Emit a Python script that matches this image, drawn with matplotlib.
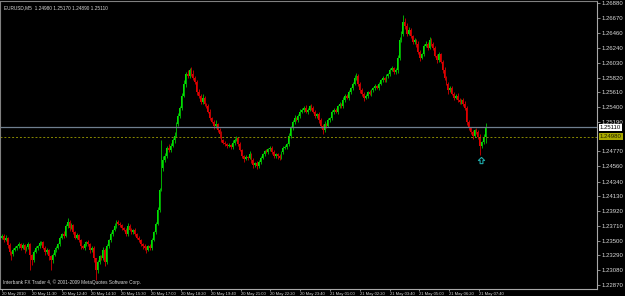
import numpy as np
import matplotlib
matplotlib.use("Agg")
import matplotlib.pyplot as plt

plt.rcParams['font.family'] = ['Liberation Sans', 'DejaVu Sans']

# EURUSD M5 closes
first_open = 1.2354
closes = [
    1.2357, 1.2351, 1.2354, 1.2344, 1.2334, 1.2331, 1.2337, 1.2340, 1.2342, 1.2345,
    1.2340, 1.2344, 1.2337, 1.2341, 1.2345, 1.2330, 1.2322, 1.2334, 1.2340, 1.2342,
    1.2347, 1.2348, 1.2340, 1.2334, 1.2337, 1.2328, 1.2322, 1.2330, 1.2337, 1.2340,
    1.2345, 1.2354, 1.2359, 1.2357, 1.2371, 1.2377, 1.2368, 1.2372, 1.2362, 1.2354,
    1.2358, 1.2351, 1.2342, 1.2340, 1.2345, 1.2348, 1.2345, 1.2337, 1.2340, 1.2325,
    1.2308, 1.2320, 1.2328, 1.2325, 1.2337, 1.2320, 1.2342, 1.2351, 1.2359, 1.2365,
    1.2371, 1.2377, 1.2374, 1.2372, 1.2368, 1.2365, 1.2359, 1.2371, 1.2365, 1.2362,
    1.2365, 1.2359, 1.2354, 1.2351, 1.2345, 1.2342, 1.2340, 1.2337, 1.2342, 1.2340,
    1.2351, 1.2362, 1.2374, 1.2394, 1.2422, 1.2453, 1.2465, 1.2470, 1.2482, 1.2479,
    1.2485, 1.2493, 1.2499, 1.2516, 1.2527, 1.2539, 1.2556, 1.2573, 1.2587, 1.2584,
    1.2593, 1.2587, 1.2581, 1.2576, 1.2561, 1.2556, 1.2547, 1.2553, 1.2544, 1.2541,
    1.2533, 1.2524, 1.2519, 1.2513, 1.2516, 1.2507, 1.2502, 1.2493, 1.2489, 1.2487,
    1.2485, 1.2486, 1.2483, 1.2489, 1.2493, 1.2496, 1.2487, 1.2479, 1.2470, 1.2466,
    1.2469, 1.2468, 1.2473, 1.2465, 1.2458, 1.2460, 1.2456, 1.2462, 1.2468, 1.2473,
    1.2477, 1.2476, 1.2480, 1.2482, 1.2476, 1.2470, 1.2473, 1.2470, 1.2468, 1.2476,
    1.2482, 1.2483, 1.2487, 1.2499, 1.2510, 1.2519, 1.2524, 1.2522, 1.2527, 1.2533,
    1.2536, 1.2539, 1.2533, 1.2536, 1.2541, 1.2539, 1.2533, 1.2527, 1.2530, 1.2522,
    1.2513, 1.2507, 1.2516, 1.2513, 1.2522, 1.2524, 1.2533, 1.2536, 1.2533, 1.2541,
    1.2544, 1.2541, 1.2550, 1.2556, 1.2553, 1.2561, 1.2567, 1.2573, 1.2581, 1.2584,
    1.2573, 1.2564, 1.2559, 1.2553, 1.2556, 1.2561, 1.2559, 1.2564, 1.2567, 1.2570,
    1.2567, 1.2573, 1.2578, 1.2581, 1.2578, 1.2584, 1.2587, 1.2593, 1.2595, 1.2590,
    1.2593, 1.2610, 1.2635, 1.2644, 1.2661, 1.2655, 1.2644, 1.2650, 1.2641, 1.2632,
    1.2635, 1.2630, 1.2618, 1.2610, 1.2615, 1.2627, 1.2630, 1.2624, 1.2635, 1.2630,
    1.2624, 1.2613, 1.2607, 1.2615, 1.2604, 1.2593, 1.2581, 1.2573, 1.2564, 1.2567,
    1.2559, 1.2553, 1.2556, 1.2550, 1.2547, 1.2550, 1.2544, 1.2539, 1.2519, 1.2510,
    1.2505, 1.2499, 1.2507, 1.2505, 1.2498, 1.2485, 1.2490, 1.2498, 1.2511,
]
# wick lengths in pips above / below the body
wick_up = [
    3, 2, 4, 1, 2, 1, 3, 2, 2, 3, 2, 3, 1, 2, 3, 2, 1, 3, 2, 2,
    3, 2, 1, 2, 3, 1, 2, 3, 2, 2, 2, 3, 2, 4, 3, 5, 2, 3, 2, 1,
    3, 2, 1, 2, 3, 2, 3, 1, 2, 2, 1, 3, 2, 2, 4, 2, 3, 2, 3, 2,
    4, 3, 2, 3, 2, 2, 3, 4, 2, 3, 2, 3, 2, 2, 1, 2, 3, 2, 2, 3,
    3, 2, 3, 4, 3, 40, 5, 4, 3, 6, 4, 3, 5, 3, 4, 3, 4, 5, 3, 5,
    3, 4, 5, 3, 2, 4, 3, 6, 3, 2, 3, 4, 2, 3, 5, 2, 3, 4, 2, 3,
    2, 3, 2, 4, 3, 3, 2, 3, 2, 2, 3, 2, 4, 2, 3, 2, 3, 2, 3, 2,
    2, 3, 2, 3, 2, 3, 2, 2, 3, 2, 2, 3, 2, 4, 3, 3, 4, 2, 3, 4,
    3, 2, 4, 3, 2, 3, 2, 3, 2, 3, 2, 3, 4, 2, 3, 2, 3, 2, 3, 2,
    3, 2, 4, 3, 2, 3, 2, 3, 4, 5, 3, 2, 3, 2, 3, 2, 3, 2, 2, 3,
    2, 3, 2, 3, 2, 3, 2, 3, 4, 2, 3, 4, 5, 4, 10, 6, 5, 4, 3, 2,
    3, 2, 4, 3, 2, 3, 4, 3, 5, 3, 2, 3, 2, 3, 2, 3, 4, 3, 2, 3,
    3, 2, 3, 4, 3, 2, 3, 4, 3, 2, 2, 3, 2, 3, 2, 3, 2, 3, 6,
]
wick_dn = [
    2, 3, 2, 4, 5, 8, 3, 2, 3, 2, 3, 2, 4, 2, 3, 22, 6, 3, 2, 3,
    2, 3, 2, 4, 3, 5, 14, 4, 2, 3, 2, 3, 2, 3, 2, 3, 4, 2, 3, 2,
    2, 3, 4, 2, 3, 2, 3, 4, 3, 5, 14, 4, 3, 3, 2, 6, 3, 2, 3, 2,
    2, 3, 2, 2, 3, 2, 3, 2, 2, 3, 2, 3, 2, 3, 2, 4, 3, 4, 2, 3,
    3, 2, 3, 2, 3, 2, 4, 3, 2, 3, 3, 2, 4, 2, 3, 2, 3, 2, 4, 3,
    2, 3, 2, 3, 4, 3, 2, 3, 2, 3, 2, 3, 2, 4, 3, 2, 6, 3, 2, 3,
    3, 2, 3, 2, 3, 2, 3, 2, 3, 4, 2, 3, 2, 4, 5, 3, 4, 2, 3, 2,
    3, 2, 3, 2, 3, 2, 3, 4, 3, 2, 3, 2, 3, 2, 3, 2, 3, 2, 3, 2,
    2, 3, 2, 3, 2, 3, 2, 3, 2, 4, 3, 5, 2, 3, 2, 3, 2, 3, 2, 3,
    2, 3, 2, 3, 2, 3, 2, 3, 2, 3, 3, 4, 3, 5, 2, 3, 2, 3, 2, 3,
    2, 3, 2, 3, 2, 3, 2, 3, 2, 3, 3, 4, 3, 2, 3, 4, 3, 2, 3, 2,
    3, 4, 3, 5, 2, 3, 2, 3, 2, 3, 3, 2, 4, 3, 2, 4, 3, 2, 5, 3,
    2, 3, 2, 3, 2, 3, 2, 3, 4, 3, 3, 4, 2, 3, 3, 13, 3, 2, 9,
]

# the 1.24980 scale label sits under the yellow price box, so it is left out
price_ticks = [1.26880, 1.26670, 1.26460, 1.26240, 1.26030, 1.25820, 1.25610,
               1.25400, 1.25190, 1.24770, 1.24560, 1.24340, 1.24130,
               1.23920, 1.23710, 1.23500, 1.23290, 1.23080, 1.22870]
time_labels = ["20 May 2010", "20 May 11:30", "20 May 12:40", "20 May 14:10",
               "20 May 15:30", "20 May 17:00", "20 May 18:20", "20 May 19:40",
               "20 May 21:00", "20 May 22:20", "20 May 23:40", "21 May 01:00",
               "21 May 02:20", "21 May 03:40", "21 May 05:00", "21 May 06:20",
               "21 May 07:40"]
bid = 1.25110
level_line = 1.24980
signal_bar, signal_price = 255.5, 1.2465
header = "EURUSD,M5  1.24980 1.25170 1.24890 1.25110"
footer = "Interbank FX Trader 4, \u00a9 2001-2009 MetaQuotes Software Corp."

c = np.array(closes)
o = np.concatenate([[first_open], c[:-1]])
top = np.maximum(o, c)
bot = np.minimum(o, c)
hi = top + np.array(wick_up) * 0.0001
lo = bot - np.array(wick_dn) * 0.0001
x = np.arange(len(c))
bull = c >= o
body_col = np.where(bull, "#00e000", "#e00000")
wick_col = np.where(bull, "#00a800", "#b80000")

fig = plt.figure(figsize=(6.25, 2.96), dpi=100, facecolor="black")
ax = fig.add_axes([0, 7 / 296, 597 / 625, 288 / 296])
ax.set_facecolor("black")

ax.vlines(x, lo, hi, colors=wick_col, linewidth=0.7)
ax.bar(x, np.maximum(top - bot, 0.00005), bottom=bot, width=0.95,
       color=body_col, linewidth=0)

ax.axhline(bid, color="#6f7f8f", linewidth=0.9)
ax.axhline(level_line, color="#8a8a00", linewidth=0.7, linestyle=(0, (2, 2)))

# hollow up-arrow signal
arrow = [(0, 1), (-1, 0), (-0.45, 0), (-0.45, -1), (0.45, -1), (0.45, 0), (1, 0), (0, 1)]
ax.plot([signal_bar], [signal_price], linestyle="none", marker=arrow,
        markersize=4.5, markerfacecolor="none", markeredgecolor="#1fa8a8",
        markeredgewidth=0.8)

ax.set_xlim(-1.07, 317.3)
ax.set_ylim(1.22812, 1.26908)

ax.yaxis.tick_right()
ax.set_yticks(price_ticks)
ax.set_yticklabels(["%.5f" % p for p in price_ticks])
ax.tick_params(axis="y", direction="out", length=2.5, width=0.6, color="#a0a0a0",
               labelcolor="#d8d8d8", labelsize=4.3, pad=1)

step = 15.9
ax.set_xticks([k * step for k in range(len(time_labels))])
ax.set_xticklabels(time_labels, ha="left")
ax.tick_params(axis="x", direction="out", length=1.5, width=0.6, color="#a0a0a0",
               labelcolor="#d8d8d8", labelsize=3.0, pad=0.3)

for side in ["right", "bottom"]:
    ax.spines[side].set_color("#a8a8a8")
    ax.spines[side].set_linewidth(0.8)
for side in ["left", "top"]:
    ax.spines[side].set_color("#808080")
    ax.spines[side].set_linewidth(0.8)
    ax.spines[side].set_linestyle((0, (1, 1)))

# price boxes on the right scale
ax.annotate("%.5f" % bid, xy=(1, bid), xycoords=("axes fraction", "data"),
            xytext=(2, 0), textcoords="offset points", fontsize=4.3, va="center",
            ha="left", color="black",
            bbox=dict(boxstyle="square,pad=0.15", fc="white", ec="none"))
ax.annotate("%.5f" % level_line, xy=(1, level_line),
            xycoords=("axes fraction", "data"), xytext=(2, 0),
            textcoords="offset points", fontsize=4.3, va="center", ha="left",
            color="#202000",
            bbox=dict(boxstyle="square,pad=0.15", fc="#a8a800", ec="none"))

fig.text(4 / 625, 1 - 8 / 296, header, color="#d8d8d8", fontsize=3.4,
         ha="left", va="center")
fig.text(3 / 625, 1 - 282 / 296, footer, color="#d8d8d8", fontsize=3.4,
         ha="left", va="center")

fig.savefig("out.png", dpi=100, facecolor="black")
